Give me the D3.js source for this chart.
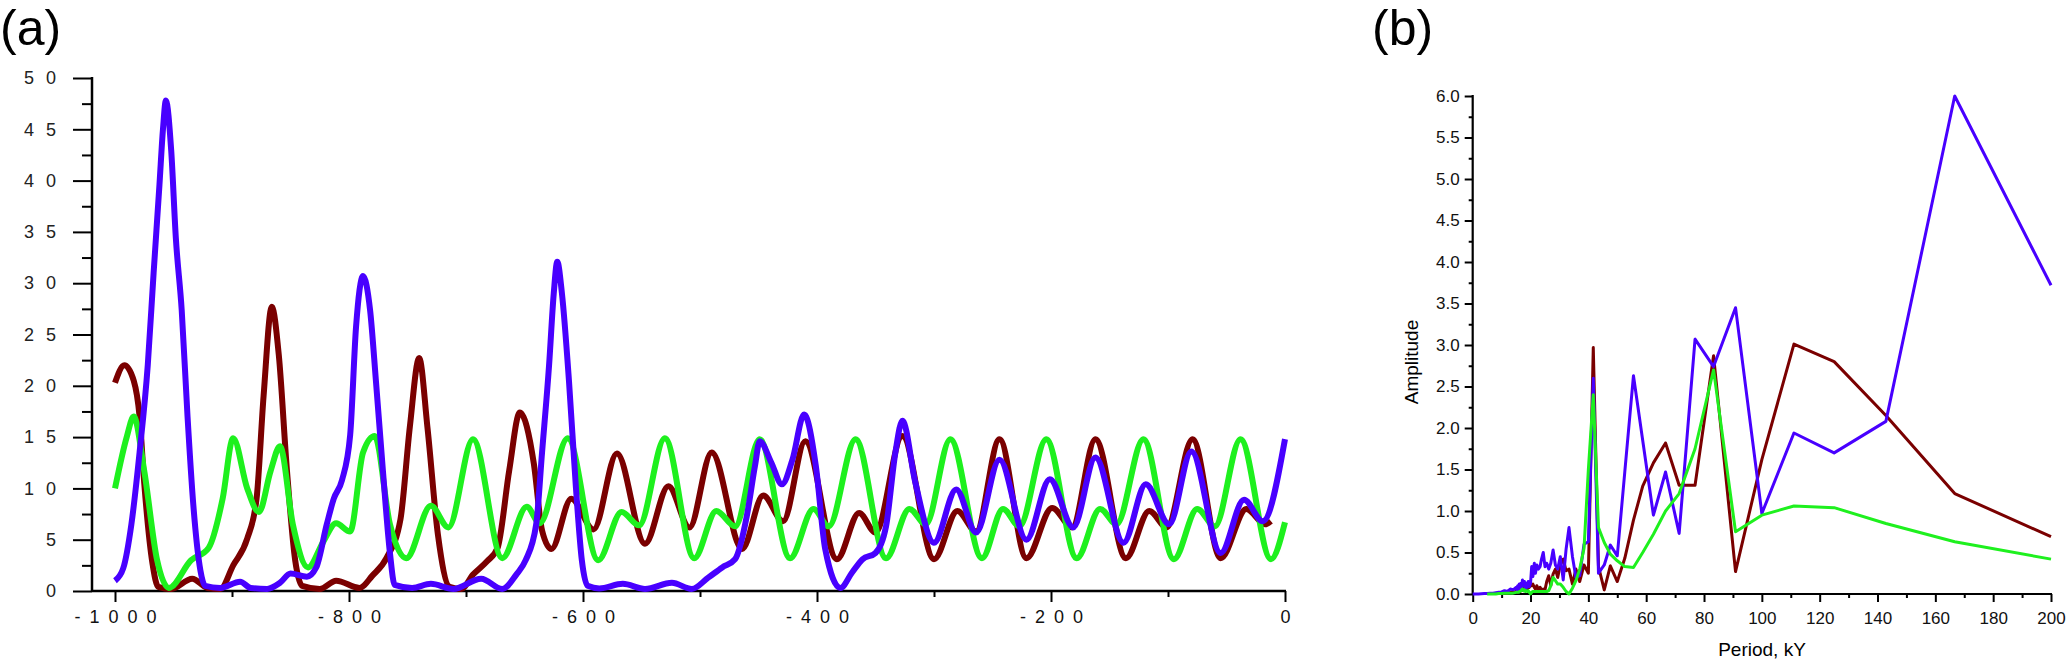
<!DOCTYPE html>
<html>
<head>
<meta charset="utf-8">
<script src="https://cdn.jsdelivr.net/npm/d3@7"></script>
<style>
  html, body { margin: 0; padding: 0; background: #fff; }
  svg { display: block; }
  text { font-family: "Liberation Sans", Arial, sans-serif; }
</style>
</head>
<body>
<svg id="chart" width="2067" height="662"></svg>
<script>
// ---- panel (a): time series, [time, value] ----
const redA = [[-1000,20.3],[-992,22.0],[-984,20.5],[-979,17],[-975,10.5],[-968,2.7],[-963,0.4],[-952,0.2],[-934,1.2],[-921,0.3],[-910,0.2],[-899,2.5],[-887,5.1],[-879,9],[-873,19],[-866,27.7],[-860,23],[-853,11.7],[-846,3],[-840,0.5],[-825,0.2],[-811,1.0],[-791,0.3],[-780,1.5],[-768,3.2],[-756,7],[-748,16],[-740,22.7],[-733,16],[-724,5.5],[-714,0.4],[-704,0.2],[-694,1.6],[-682,2.9],[-673,4.2],[-663,11.8],[-654,17.4],[-642,12.4],[-635,5.9],[-627,4.1],[-610,9.0],[-591,6.0],[-571,13.4],[-547,4.6],[-527,10.2],[-509,6.2],[-490,13.5],[-464,4.1],[-446,9.3],[-429,6.8],[-410,14.6],[-383,3.1],[-364,7.6],[-350,5.7],[-327,15.1],[-300,3.1],[-280,7.8],[-264,5.8],[-244,14.8],[-221,3.2],[-199,8.1],[-182,6.2],[-162,14.8],[-136,3.2],[-116,7.8],[-101,6.2],[-79,14.8],[-55,3.2],[-33,8.0],[-17,6.5],[-12,6.8]];

const greenA = [[-1000,10.0],[-990,15],[-984,17.0],[-975,11.7],[-964,3.0],[-954,0.3],[-935,3.0],[-920,4.2],[-908,9],[-899,14.9],[-887,10],[-877,7.7],[-867,11.7],[-859,14.1],[-848,6.5],[-835,2.3],[-822,4.8],[-811,6.6],[-799,5.8],[-788,13.5],[-778,15.1],[-765,6.5],[-751,3.2],[-730,8.3],[-715,6.2],[-694,14.8],[-669,3.2],[-648,8.2],[-637,6.6],[-613,14.9],[-587,3.0],[-567,7.7],[-552,6.4],[-530,14.9],[-505,3.2],[-486,7.8],[-470,6.3],[-449,14.8],[-423,3.2],[-403,8.0],[-390,6.3],[-367,14.8],[-341,3.2],[-321,8.0],[-307,6.5],[-286,14.8],[-259,3.2],[-241,8.0],[-227,6.3],[-204,14.8],[-178,3.2],[-158,8.0],[-144,6.5],[-121,14.8],[-95,3.1],[-75,8.0],[-60,6.3],[-38,14.8],[-12,3.1],[0,6.7]];

const blueA = [[-1000,1.0],[-993,2.2],[-986,6.5],[-979,13.5],[-972,22],[-967,31],[-962,39.6],[-959,45],[-956.5,47.8],[-952,43],[-948,34.4],[-943,27.4],[-938,17],[-933,8.3],[-927,2],[-923,0.5],[-910,0.3],[-893,0.9],[-884,0.3],[-870,0.2],[-859,0.8],[-850,1.7],[-836,1.4],[-828,2.3],[-819,6.5],[-813,9.0],[-806,10.8],[-799,15.2],[-794,25.7],[-788,30.7],[-782,27.4],[-777,20.5],[-771,11.7],[-765,3.7],[-761,0.6],[-746,0.3],[-730,0.7],[-711,0.2],[-687,1.2],[-669,0.2],[-657,1.6],[-649,3.0],[-640,6.5],[-635,13.5],[-629,22],[-625,29],[-622,32.1],[-618,29],[-612,20.5],[-606,10],[-601,3.0],[-596,0.5],[-586,0.25],[-566,0.7],[-547,0.2],[-524,0.8],[-507,0.2],[-493,1.3],[-481,2.3],[-470,3.1],[-460,7.3],[-453,12.2],[-449,14.6],[-439,12.5],[-430,10.4],[-421,12.8],[-411,17.2],[-401,12.2],[-393,4.1],[-380,0.3],[-370,1.8],[-361,3.1],[-350,3.7],[-341,6.3],[-333,13.5],[-327,16.6],[-316,10.6],[-300,4.7],[-281,9.9],[-264,5.7],[-244,12.8],[-221,5.0],[-201,10.9],[-181,6.2],[-162,13.0],[-138,4.7],[-119,10.4],[-99,6.5],[-80,13.6],[-55,3.7],[-35,8.9],[-19,6.8],[0,14.8]];

const yTicksA = [0, 5, 10, 15, 20, 25, 30, 35, 40, 45, 50];
const yMinorA = [2.5, 7.5, 12.5, 17.5, 22.5, 27.5, 32.5, 37.5, 42.5, 47.5];
const xTicksA = [-1000, -800, -600, -400, -200, 0];
const xMinorA = [-900, -700, -500, -300, -100];

// ---- panel (b): amplitude spectrum ----
const periodsB = [200,166.7,142.9,125,111.1,100,90.9,83.3,76.9,71.4,
  66.7,62.5,58.8,55.6,52.6,50,47.6,45.5,43.5,41.7,
  40,38.5,37,35.7,34.5,33.3,32.3,31.3,30.3,29.4,
  28.6,27.8,27,26.3,25.6,25,24.4,23.8,23.3,22.7,
  22.2,21.7,21.3,20.8,20.4,20,19.6,19.2,18.9,18.5,
  18.2,17.9,17.5,17.2,16.9,16.7,16.4,16.1,15.9,15.6,
  15.4,15,14,13,12,11,10,9,8,7,
  6,5,4,2,0];

const blueB = [3.72,6.0,2.08,1.70,1.94,0.97,3.45,2.74,3.07,0.73,
  1.47,0.95,1.85,2.63,1.47,0.46,0.59,0.35,0.25,2.6,
  0.63,0.6,0.22,0.2,0.45,0.8,0.54,0.17,0.45,0.3,
  0.35,0.53,0.37,0.3,0.37,0.33,0.5,0.42,0.33,0.3,
  0.35,0.25,0.37,0.21,0.33,0.13,0.09,0.15,0.08,0.13,
  0.05,0.15,0.1,0.17,0.08,0.13,0.05,0.12,0.06,0.1,
  0.04,0.08,0.05,0.06,0.03,0.04,0.025,0.02,0.015,0.01,
  0.01,0.005,0.005,0,0];

const redB = [0.69,1.21,2.15,2.80,3.01,1.62,0.27,2.87,1.31,1.31,
  1.82,1.58,1.3,0.89,0.43,0.15,0.34,0.05,0.33,2.97,
  0.25,0.35,0.15,0.3,0.12,0.3,0.28,0.42,0.35,0.2,
  0.3,0.24,0.1,0.22,0.15,0.05,0.06,0.05,0.08,0.05,
  0.1,0.06,0.08,0.12,0.1,0.12,0.08,0.1,0.06,0.1,
  0.05,0.08,0.04,0.07,0.04,0.06,0.03,0.05,0.03,0.04,
  0.02,0.03,0.02,0.02,0.01,0.01,0.005,null,null,null,
  null,null,null,null,null];

const greenB = [0.42,0.63,0.85,1.04,1.06,0.95,0.75,2.70,1.75,1.21,
  1.0,0.72,0.5,0.32,0.33,0.4,0.48,0.62,0.8,2.4,
  1.5,0.55,0.3,0.16,0.07,0.0,0.03,0.08,0.12,0.12,
  0.16,0.2,0.1,0.04,0.03,0.03,0.03,0.03,0.03,0.03,
  0.03,0.03,0.03,0.03,0.02,0.0,0.02,0.04,0.03,0.04,
  0.03,0.05,0.04,0.06,0.05,0.04,0.03,0.03,0.02,0.02,
  0.02,0.02,0.01,0.01,0.01,0.01,0.005,0.005,0,0,
  0,0,null,null,null];

const yTicksB = [0, 0.5, 1, 1.5, 2, 2.5, 3, 3.5, 4, 4.5, 5, 5.5, 6];
const yMinorB = [0.25, 0.75, 1.25, 1.75, 2.25, 2.75, 3.25, 3.75, 4.25, 4.75, 5.25, 5.75];
const xTicksB = [0, 20, 40, 60, 80, 100, 120, 140, 160, 180, 200];
const xMinorB = [10, 30, 50, 70, 90, 110, 130, 150, 170, 190];

const colors = { red: "#7a0000", green: "#1ef01e", blue: "#4800ff" };

const svg = d3.select("#chart");

// ================= panel (a) =================
const xA = d3.scaleLinear().domain([-1000, 0]).range([115, 1285]);
const yA = d3.scaleLinear().domain([0, 50]).range([591, 78]);
const axA = 92;
const gA = svg.append("g");

function styleAxis(g, stroke, width) {
  g.select(".domain").remove();
  g.selectAll(".tick line").attr("stroke", stroke).attr("stroke-width", width);
}

const lsY = 12, lsX = 9;
const yAxisA = gA.append("g")
  .attr("transform", `translate(${axA},0)`)
  .call(d3.axisLeft(yA).tickValues(yTicksA).tickSize(19).tickPadding(17 - lsY)
    .tickSizeOuter(0).tickFormat((d) => String(d)));
styleAxis(yAxisA, "#000", 2);
yAxisA.selectAll(".tick text")
  .attr("font-size", 18).attr("fill", "#222")
  .style("letter-spacing", lsY + "px");

const yMinA = gA.append("g")
  .attr("transform", `translate(${axA},0)`)
  .call(d3.axisLeft(yA).tickValues(yMinorA).tickSize(10).tickFormat(""));
styleAxis(yMinA, "#000", 2);

const xAxisA = gA.append("g")
  .attr("transform", `translate(0,${yA(0)})`)
  .call(d3.axisBottom(xA).tickValues(xTicksA).tickSize(11).tickPadding(8)
    .tickSizeOuter(0).tickFormat((d) => String(d)));
styleAxis(xAxisA, "#000", 2);
xAxisA.selectAll(".tick text")
  .attr("font-size", 18).attr("fill", "#111")
  .attr("dx", lsX / 2)
  .style("letter-spacing", lsX + "px");

const xMinA = gA.append("g")
  .attr("transform", `translate(0,${yA(0)})`)
  .call(d3.axisBottom(xA).tickValues(xMinorA).tickSize(6).tickFormat(""));
styleAxis(xMinA, "#000", 2);

gA.append("line")
  .attr("x1", axA).attr("x2", axA)
  .attr("y1", yA(50) - 1).attr("y2", yA(0))
  .attr("stroke", "#000").attr("stroke-width", 2.5);
gA.append("line")
  .attr("x1", axA).attr("x2", xA(0) + 1)
  .attr("y1", yA(0)).attr("y2", yA(0))
  .attr("stroke", "#000").attr("stroke-width", 2.5);

const lineA = d3.line()
  .x((d) => xA(d[0]))
  .y((d) => yA(d[1]))
  .curve(d3.curveMonotoneX);

[[redA, colors.red], [greenA, colors.green], [blueA, colors.blue]].forEach(([data, c]) => {
  gA.append("path")
    .datum(data)
    .attr("fill", "none")
    .attr("stroke", c)
    .attr("stroke-width", 6)
    .attr("stroke-linejoin", "round")
    .attr("d", lineA);
});

svg.append("text")
  .attr("x", 0).attr("y", 45)
  .attr("font-size", 50)
  .text("(a)");

// ================= panel (b) =================
const xB = d3.scaleLinear().domain([0, 200]).range([1472.7, 2051]);
const yB = d3.scaleLinear().domain([0, 6]).range([594, 96]);
const gB = svg.append("g");

const yAxisB = gB.append("g")
  .attr("transform", `translate(${xB(0)},0)`)
  .call(d3.axisLeft(yB).tickValues(yTicksB).tickSize(8).tickPadding(5)
    .tickSizeOuter(0).tickFormat(d3.format(".1f")));
styleAxis(yAxisB, "#000", 2);
yAxisB.selectAll(".tick text").attr("font-size", 17).attr("fill", "#111");

const yMinB = gB.append("g")
  .attr("transform", `translate(${xB(0)},0)`)
  .call(d3.axisLeft(yB).tickValues(yMinorB).tickSize(4).tickFormat(""));
styleAxis(yMinB, "#000", 2);

const xAxisB = gB.append("g")
  .attr("transform", `translate(0,${yB(0)})`)
  .call(d3.axisBottom(xB).tickValues(xTicksB).tickSize(8).tickPadding(10)
    .tickSizeOuter(0).tickFormat(d3.format("d")));
styleAxis(xAxisB, "#000", 2);
xAxisB.selectAll(".tick text").attr("font-size", 17).attr("fill", "#111");

const xMinB = gB.append("g")
  .attr("transform", `translate(0,${yB(0)})`)
  .call(d3.axisBottom(xB).tickValues(xMinorB).tickSize(4).tickFormat(""));
styleAxis(xMinB, "#000", 2);

gB.append("line")
  .attr("x1", xB(0)).attr("x2", xB(0))
  .attr("y1", yB(6) - 1).attr("y2", yB(0) + 1)
  .attr("stroke", "#000").attr("stroke-width", 2.2);
gB.append("line")
  .attr("x1", xB(0)).attr("x2", xB(200) + 1)
  .attr("y1", yB(0)).attr("y2", yB(0))
  .attr("stroke", "#000").attr("stroke-width", 2.2);

const lineB = d3.line()
  .defined((d) => d[1] != null)
  .x((d) => xB(d[0]))
  .y((d) => yB(d[1]));

[[redB, colors.red], [blueB, colors.blue], [greenB, colors.green]].forEach(([vals, c]) => {
  gB.append("path")
    .datum(periodsB.map((p, i) => [p, vals[i]]))
    .attr("fill", "none")
    .attr("stroke", c)
    .attr("stroke-width", 3)
    .attr("stroke-linejoin", "round")
    .attr("d", lineB);
});

gB.append("text")
  .attr("x", 1762).attr("y", 656)
  .attr("text-anchor", "middle")
  .attr("font-size", 19)
  .text("Period, kY");

gB.append("text")
  .attr("transform", "translate(1418,362) rotate(-90)")
  .attr("text-anchor", "middle")
  .attr("font-size", 19)
  .text("Amplitude");

svg.append("text")
  .attr("x", 1372).attr("y", 45)
  .attr("font-size", 50)
  .text("(b)");
</script>
</body>
</html>
